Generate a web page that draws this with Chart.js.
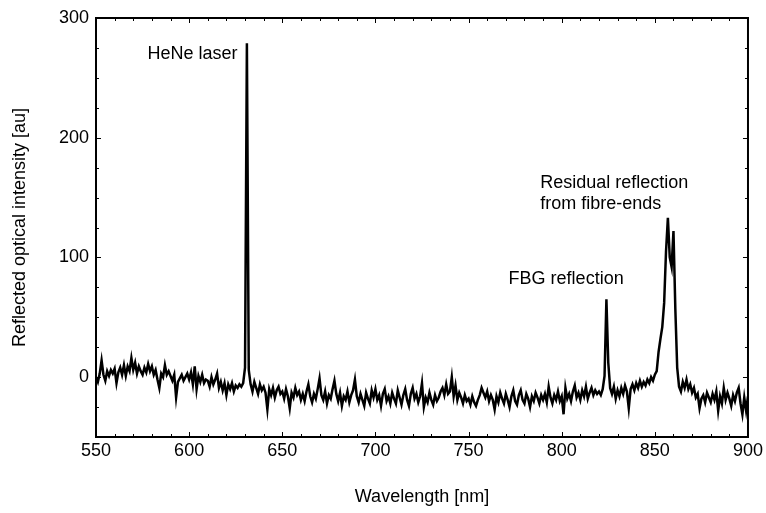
<!DOCTYPE html>
<html>
<head>
<meta charset="utf-8">
<script src="https://cdn.jsdelivr.net/npm/chart.js@4"></script>
<style>
  body { margin: 0; background: #fff; }
</style>
</head>
<body>
<canvas id="chart" width="766" height="513"></canvas>
<script>
// spectrum, 1 nm steps from 550 nm
const startWavelength = 550;
const intensity = [
  0, -4, 3, 14, 2, -3, 5, 1, 6, 3,             // 550
  7, -5, 4, 8, 2, 10, 1, 9, 5, 16,             // 560
  6, 12, 3, 9, 5, 2, 8, 4, 11, 5,              // 570
  9, 2, 6, -2, -9, 3, 0, 10, 2, 5,             // 580
  1, -3, 2, -17, -4, -1, 2, -3, 0, 3,          // 590
  -2, 4, -6, 9, -10, 1, -4, 2, -5, -2,         // 600
  -3, -8, 0, -6, -2, 3, -9, -4, -11, -5,       // 610
  -15, -6, -10, -5, -12, -7, -9, -6, -8, -5,   // 620
  8, 279, 6, -6, -12, -4, -9, -14, -6, -11,    // 630
  -8, -13, -27, -10, -15, -9, -17, -11, -8, -14,   // 640
  -12, -18, -10, -16, -26, -13, -17, -9, -15, -12, // 650
  -19, -14, -20, -12, -6, -16, -21, -14, -18, -10, // 660
  -1, -15, -19, -12, -22, -15, -18, -10, -3, -14,  // 670
  -20, -13, -24, -16, -19, -12, -21, -15, -11, -2, // 680
  -16, -21, -14, -19, -24, -13, -18, -22, -11, -17, // 690
  -10, -19, -15, -24, -14, -10, -20, -16, -22, -13, // 700
  -18, -22, -11, -17, -23, -15, -10, -19, -24, -14, // 710
  -9, -18, -14, -21, -16, -5, -25, -17, -21, -13,   // 720
  -19, -23, -15, -20, -17, -12, -9, -15, -6, -14,   // 730
  -12, 0, -16, -7, -19, -13, -17, -22, -15, -20,    // 740
  -18, -23, -16, -21, -24, -19, -15, -9, -13, -17,  // 750
  -12, -20, -15, -19, -27, -16, -21, -13, -18, -22, // 760
  -14, -19, -25, -16, -11, -20, -23, -15, -11, -19, // 770
  -22, -14, -18, -25, -16, -20, -13, -17, -22, -15, // 780
  -19, -14, -21, -8, -17, -22, -15, -19, -12, -20,  // 790
  -16, -31, -9, -18, -14, -20, -12, -7, -17, -13,   // 800
  -19, -11, -16, -8, -18, -13, -9, -15, -11, -14,   // 810
  -12, -15, -10, 1, 65, 12, -9, -14, -8, -18,       // 820
  -11, -16, -9, -14, -7, -12, -26, -10, -6, -11,    // 830
  -5, -9, -3, -8, -4, -7, -2, -5, 0, -3,            // 840
  2, 5, 21, 32, 42, 62, 105, 133, 100, 92,          // 850
  122, 57, 8, -8, -12, -4, -9, -2, -10, -6,         // 860
  -13, -9, -17, -14, -26, -18, -15, -21, -13, -17,  // 870
  -21, -14, -19, -12, -28, -16, -22, -9, -19, -13,  // 880
  -18, -24, -15, -20, -13, -9, -22, -31, -17, -28,  // 890
  -16                                               // 900
];

const xTicks = [550, 600, 650, 700, 750, 800, 850, 900];
const yTicks = [0, 100, 200, 300];

// text labels placed in data coordinates
const notes = [
  { text: "HeNe laser", x: 626, y: 270, align: "right" },
  { text: "FBG reflection", x: 771.5, y: 82, align: "left" },
  { text: "Residual reflection", x: 788.5, y: 162, align: "left" },
  { text: "from fibre-ends", x: 788.5, y: 145, align: "left" },
];

const points = intensity.map((v, i) => ({ x: startWavelength + i, y: v }));

Chart.defaults.font.family = "'Liberation Sans', Arial, sans-serif";
Chart.defaults.color = "#000";

const frame = {
  id: "frame",
  afterDraw(chart) {
    const { ctx, chartArea: a, scales } = chart;
    const xs = scales.x, ys = scales.y;
    ctx.save();
    ctx.strokeStyle = "#000";
    ctx.lineWidth = 1;
    ctx.beginPath();
    for (let v = 550; v <= 900; v += 10) {
      const px = Math.round(xs.getPixelForValue(v)) + 0.5;
      const len = v % 50 === 0 ? 5 : 3;
      ctx.moveTo(px, a.bottom); ctx.lineTo(px, a.bottom - len);
      ctx.moveTo(px, a.top); ctx.lineTo(px, a.top + len);
    }
    for (let v = -50; v <= 300; v += 25) {
      const py = Math.round(ys.getPixelForValue(v)) + 0.5;
      const len = v % 100 === 0 ? 5 : 3;
      ctx.moveTo(a.left, py); ctx.lineTo(a.left + len, py);
      ctx.moveTo(a.right, py); ctx.lineTo(a.right - len, py);
    }
    ctx.stroke();
    ctx.lineWidth = 2;
    ctx.strokeRect(a.left, a.top, a.right - a.left, a.bottom - a.top);

    ctx.fillStyle = "#000";
    ctx.font = "18px 'Liberation Sans', Arial, sans-serif";
    ctx.textBaseline = "middle";
    notes.forEach(n => {
      ctx.textAlign = n.align;
      ctx.fillText(n.text, xs.getPixelForValue(n.x), ys.getPixelForValue(n.y));
    });
    ctx.restore();
  }
};

new Chart(document.getElementById("chart").getContext("2d"), {
  type: "line",
  data: {
    datasets: [
      {
        data: points,
        borderColor: "#000",
        borderWidth: 2.5,
        pointRadius: 0,
        fill: false,
        tension: 0,
      },
    ],
  },
  options: {
    responsive: false,
    animation: false,
    devicePixelRatio: 1,
    layout: { padding: { top: 18, right: 17, left: 0, bottom: 0 } },
    scales: {
      x: {
        type: "linear",
        min: 550,
        max: 900,
        grid: { display: false, drawTicks: false },
        border: { display: false },
        afterBuildTicks: s => { s.ticks = xTicks.map(v => ({ value: v })); },
        afterFit: s => { s.height = 76; },
        ticks: { font: { size: 18 }, padding: 3, maxRotation: 0 },
        title: {
          display: true,
          text: "Wavelength [nm]",
          font: { size: 18 },
          padding: { top: 4, bottom: 5 },
        },
      },
      y: {
        min: -50,
        max: 300,
        grid: { display: false, drawTicks: false },
        border: { display: false },
        afterBuildTicks: s => { s.ticks = yTicks.map(v => ({ value: v })); },
        afterFit: s => { s.width = 96; },
        ticks: { font: { size: 18 }, padding: 7 },
        title: {
          display: true,
          text: "Reflected optical intensity [au]",
          font: { size: 18 },
          padding: { top: 9, bottom: 4 },
        },
      },
    },
    plugins: {
      legend: { display: false },
      tooltip: { enabled: false },
    },
  },
  plugins: [frame],
});
</script>
</body>
</html>
